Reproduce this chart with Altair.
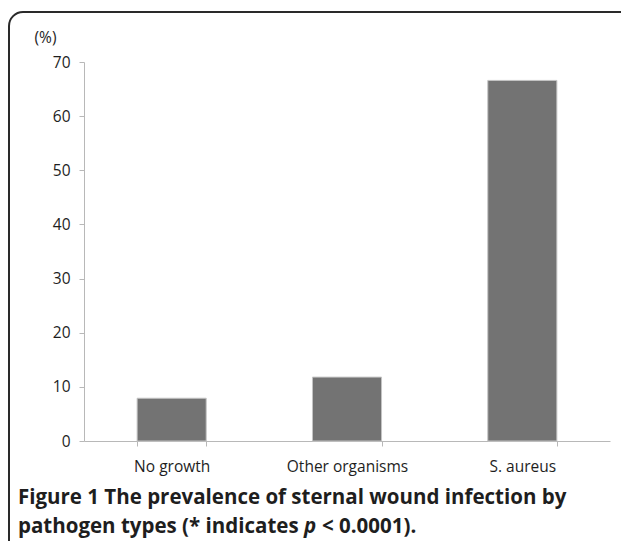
import altair as alt
import pandas as pd

categories = ["No growth", "Other organisms", "S. aureus"]
values = [7.9, 11.8, 66.6]
y_ticks = [0, 10, 20, 30, 40, 50, 60, 70]

df = pd.DataFrame({"category": categories, "value": values})

FONT = "Open Sans"
AXIS_GRAY = "#b8b8b8"
TEXT = "#1e1e1e"

W, H = 526, 379

bars = alt.Chart(df).mark_bar(color="#737373", stroke="#c4c4c4", strokeWidth=1).encode(
    x=alt.X("category:N", sort=categories,
            scale=alt.Scale(paddingInner=0.606, paddingOuter=0.303),
            axis=alt.Axis(title=None, labelAngle=0, tickBand="extent", tickSize=5,
                          domainColor=AXIS_GRAY, tickColor=AXIS_GRAY,
                          labelFont=FONT, labelFontSize=15.5, labelColor=TEXT,
                          labelPadding=13)),
    y=alt.Y("value:Q", scale=alt.Scale(domain=[0, 70], nice=False),
            axis=alt.Axis(values=y_ticks, grid=False, tickSize=5,
                          domainColor=AXIS_GRAY, tickColor=AXIS_GRAY,
                          labelFont=FONT, labelFontSize=15.5, labelColor=TEXT,
                          labelPadding=9,
                          title="(%)", titleAngle=0, titleX=-39, titleY=-25,
                          titleAlign="center", titleBaseline="middle",
                          titleFont=FONT, titleFontSize=15.5, titleFontWeight="normal",
                          titleColor=TEXT)),
)

one = alt.Data(values=[{}])

border = alt.Chart(one).mark_rect(filled=False, stroke="#2a2a2a", strokeWidth=2,
                                  cornerRadius=14).encode(
    x=alt.value(-75), x2=alt.value(560), y=alt.value(-50), y2=alt.value(520))

cap_style = dict(font=FONT, fontSize=20.5, fontWeight="bold", color=TEXT,
                 align="left", baseline="middle")

line1a = alt.Chart(one).mark_text(text="Figure 1 The prevalence of sternal wound infection by",
                                  **cap_style).encode(x=alt.value(-66), y=alt.value(436))
line2a = alt.Chart(one).mark_text(text="pathogen types (* indicates",
                                  **cap_style).encode(x=alt.value(-66), y=alt.value(465))
line2b = alt.Chart(one).mark_text(text="p", fontStyle="italic",
                                  **cap_style).encode(x=alt.value(220), y=alt.value(465))
line2c = alt.Chart(one).mark_text(text="< 0.0001).",
                                  **cap_style).encode(x=alt.value(238), y=alt.value(465))

chart = alt.layer(border, bars, line1a, line2a, line2b, line2c).properties(
    width=W, height=H,
    background="white",
    padding={"left": 76, "top": 54, "right": 11, "bottom": 100},
    autosize=alt.AutoSizeParams(type="none"),
).configure_view(strokeWidth=0)

chart.save("out.html", embed_options={"renderer": "svg", "actions": False})
